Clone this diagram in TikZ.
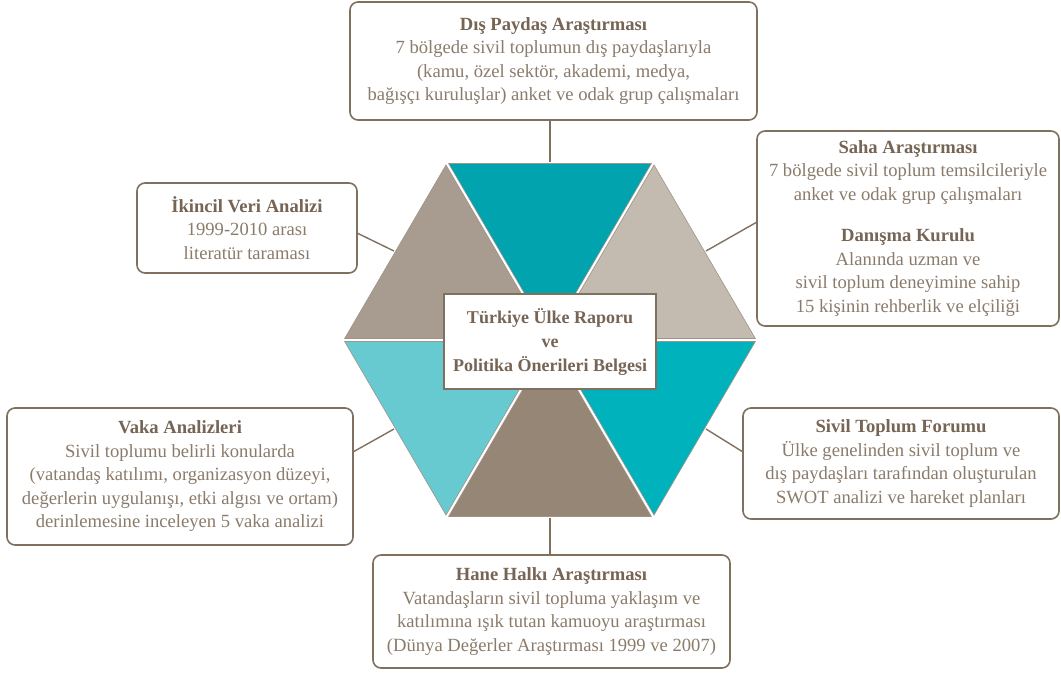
\documentclass[tikz,border=0pt]{standalone}
\usepackage{fontspec}
\setmainfont{Liberation Serif}
\usetikzlibrary{calc}

\definecolor{boxline}{RGB}{128,112,96}
\definecolor{bodytext}{RGB}{139,123,107}
\definecolor{headtext}{RGB}{118,100,84}
\definecolor{tealtop}{RGB}{0,163,174}
\definecolor{tealright}{RGB}{0,178,188}
\definecolor{tealleft}{RGB}{104,202,209}
\definecolor{greyleft}{RGB}{168,155,143}
\definecolor{greyright}{RGB}{195,186,176}
\definecolor{brownbottom}{RGB}{149,134,118}

\newcommand{\hd}[1]{{\bfseries\color{headtext}#1}}
% one piece of the hexagon, pulled a little towards its centre
\newcommand{\hexpiece}[4]{%
  \coordinate (g) at (barycentric cs:#1=1,#2=1,#3=1);
  \filldraw[piece,fill=#4] ($(g)!0.975!(#1)$) -- ($(g)!0.975!(#2)$) -- ($(g)!0.975!(#3)$) -- cycle;}

\begin{document}
\begin{tikzpicture}[x=1pt,y=-1pt]
            \tikzstyle{piece}=[draw=boxline!75,line width=0.6pt]
            \tikzstyle{info box}=[draw=boxline,line width=1.6pt,rounded corners=8pt,fill=white,align=center,text=bodytext,inner sep=0pt,outer sep=0pt,font=\fontsize{18.6}{23.5}\selectfont]
            \tikzstyle{core box}=[draw=boxline,line width=2.2pt,fill=white,align=center,text=headtext,inner sep=0pt,outer sep=0pt,font=\bfseries\fontsize{18}{24}\selectfont]
            \tikzstyle{link}=[draw=boxline,line width=1.4pt]

            \useasboundingbox (0,0) rectangle (1061,675);

            % hexagon corners
            \coordinate (O) at (550,340);
            \coordinate (L) at (342,340);
            \coordinate (R) at (758,340);
            \coordinate (TL) at (446,162);
            \coordinate (TR) at (654,162);
            \coordinate (BL) at (446,518);
            \coordinate (BR) at (654,518);

            \hexpiece{TL}{TR}{O}{tealtop}
            \hexpiece{TL}{L}{O}{greyleft}
            \hexpiece{TR}{R}{O}{greyright}
            \hexpiece{L}{BL}{O}{tealleft}
            \hexpiece{BL}{BR}{O}{brownbottom}
            \hexpiece{R}{BR}{O}{tealright}

            % edge midpoints for the connectors
            \coordinate (mT) at ($(TL)!0.5!(TR)$);
            \coordinate (mTL) at ($(TL)!0.5!(L)$);
            \coordinate (mTR) at ($(TR)!0.5!(R)$);
            \coordinate (mBL) at ($(BL)!0.5!(L)$);
            \coordinate (mBR) at ($(BR)!0.5!(R)$);
            \coordinate (mB) at ($(BL)!0.5!(BR)$);

            \node(rapor)[core box,minimum width=212,minimum height=95] at (550,341.5)
            {Türkiye Ülke Raporu\\ve\\Politika Önerileri Belgesi};

            \node(dis)[info box,minimum width=407,minimum height=118] at (553.5,61)
            {\hd{Dış Paydaş Araştırması}\\7 bölgede sivil toplumun dış paydaşlarıyla\\(kamu, özel sektör, akademi, medya,\\bağışçı kuruluşlar) anket ve odak grup çalışmaları};

            \node(saha)[info box,minimum width=302,minimum height=195] at (908,228.5)
            {\hd{Saha Araştırması}\\7 bölgede sivil toplum temsilcileriyle\\anket ve odak grup çalışmaları\\[18pt]
             \hd{Danışma Kurulu}\\Alanında uzman ve\\sivil toplum deneyimine sahip\\15 kişinin rehberlik ve elçiliği};

            \node(ikincil)[info box,minimum width=220,minimum height=90] at (247,228)
            {\hd{İkincil Veri Analizi}\\1999-2010 arası\\literatür taraması};

            \node(vaka)[info box,minimum width=346,minimum height=137] at (180,476.5)
            {\hd{Vaka Analizleri}\\Sivil toplumu belirli konularda\\(vatandaş katılımı, organizasyon düzeyi,\\değerlerin uygulanışı, etki algısı ve ortam)\\derinlemesine inceleyen 5 vaka analizi};

            \node(forum)[info box,minimum width=316,minimum height=111] at (901,463.5)
            {\hd{Sivil Toplum Forumu}\\Ülke genelinden sivil toplum ve\\dış paydaşları tarafından oluşturulan\\SWOT analizi ve hareket planları};

            \node(hane)[info box,minimum width=357,minimum height=113] at (551.5,611.5)
            {\hd{Hane Halkı Araştırması}\\Vatandaşların sivil topluma yaklaşım ve\\katılımına ışık tutan kamuoyu araştırması\\(Dünya Değerler Araştırması 1999 ve 2007)};

            % connectors
            \draw[link] (dis.south -| mT) -- (mT);
            \draw[link] (mTR) -- (saha.west |- 0,222);
            \draw[link] (mTL) -- (ikincil.east |- 0,233);
            \draw[link] (mBL) -- (vaka.east |- 0,452);
            \draw[link] (mBR) -- (forum.west |- 0,452);
            \draw[link] (mB) -- (hane.north -| mB);
\end{tikzpicture}
\end{document}
